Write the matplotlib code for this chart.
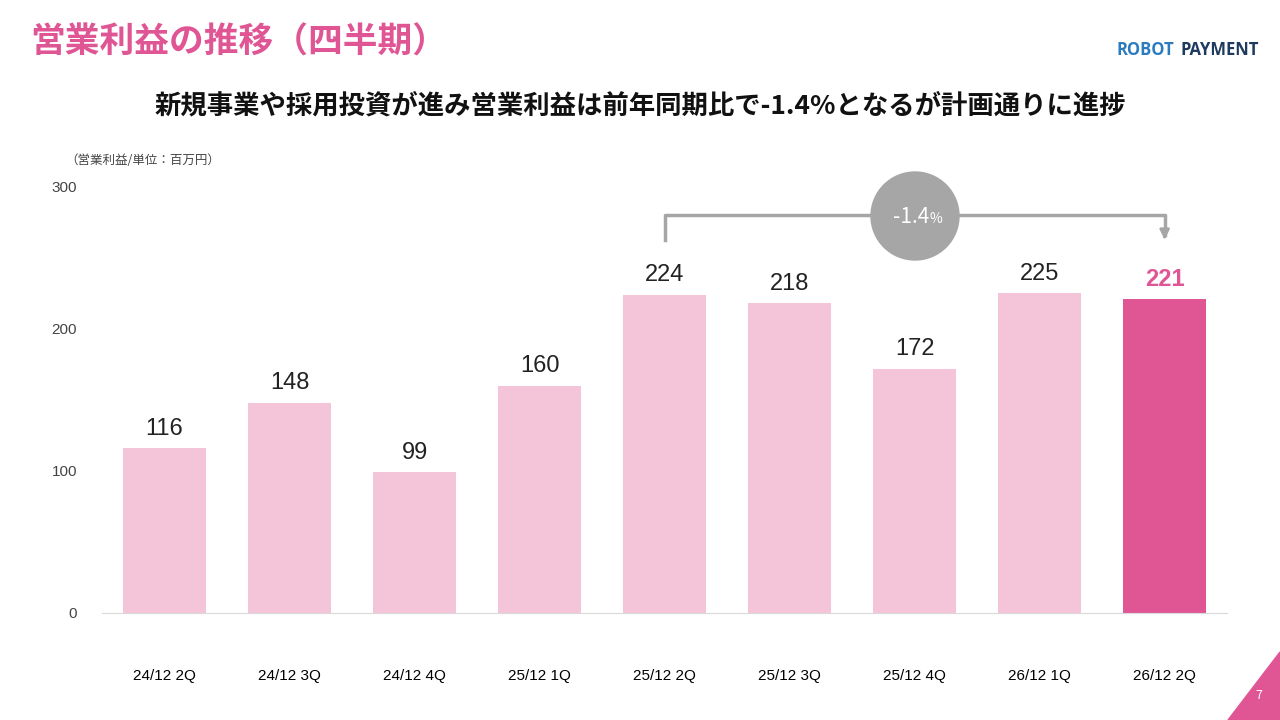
import matplotlib.pyplot as plt
from matplotlib.patches import Ellipse, Polygon

plt.rcParams['font.family'] = ['Noto Sans CJK JP', 'DejaVu Sans']

quarters = ["24/12 2Q", "24/12 3Q", "24/12 4Q", "25/12 1Q", "25/12 2Q",
            "25/12 3Q", "25/12 4Q", "26/12 1Q", "26/12 2Q"]
profit = [116, 148, 99, 160, 224, 218, 172, 225, 221]

light = "#f4c4d9"
dark = "#e05695"
gray = "#a6a6a6"

fig = plt.figure(figsize=(12.8, 7.2), dpi=100)
ax = fig.add_axes([0.0797, 1 - 613 / 720, 0.879, 426 / 720])

colors = [light] * (len(profit) - 1) + [dark]
x = range(len(profit))
ax.bar(x, profit, width=0.66, color=colors)
for i, v in enumerate(profit):
    last = i == len(profit) - 1
    ax.text(i, v + 6, str(v), ha='center', va='bottom', fontsize=17,
            family='Liberation Sans', color=dark if last else '#222222',
            fontweight='bold' if last else 'normal')

ax.set_xlim(-0.5, 8.5)
ax.set_ylim(0, 300)
ax.set_yticks([0, 100, 200, 300])
ax.set_xticks(list(x))
ax.set_xticklabels(quarters, family='Liberation Sans', fontsize=11)
ax.tick_params(axis='x', length=0, pad=58 - 18)
ax.tick_params(axis='y', length=0, pad=18, labelsize=11, labelcolor='#444444')
for t in ax.get_yticklabels():
    t.set_family('Liberation Sans')
for s in ['top', 'right', 'left']:
    ax.spines[s].set_visible(False)
ax.spines['bottom'].set_color('#d9d9d9')

# bracket comparing same quarter last year
ax.plot([4, 4, 8, 8], [263, 280.3, 280.3, 266], color=gray, lw=2.5, clip_on=False)
ax.annotate('', xy=(8, 261), xytext=(8, 268),
            arrowprops=dict(arrowstyle='-|>', color=gray, lw=2, mutation_scale=14),
            annotation_clip=False)
fig.add_artist(Ellipse((915 / 1280, 1 - 216 / 720), 88 / 1280, 88 / 720,
                       transform=fig.transFigure, color=gray, zorder=5))
fig.text(929 / 1280, 1 - 217 / 720, '-1.4', ha='right', va='center', fontsize=15,
         color='white', zorder=6)
fig.text(929 / 1280, 1 - 219 / 720, '%', ha='left', va='center', fontsize=10,
         color='white', zorder=6)

fig.text(30 / 1280, 1 - 42 / 720, '営業利益の推移（四半期）', fontsize=25, color=dark,
         fontweight='bold', va='center')
fig.text(640 / 1280, 1 - 106 / 720,
         '新規事業や採用投資が進み営業利益は前年同期比で-1.4%となるが計画通りに進捗',
         fontsize=19, fontweight='bold', ha='center', va='center', color='#111111')
fig.text(65 / 1280, 1 - 160 / 720, '（営業利益/単位：百万円）', fontsize=9,
         color='#444444', va='center')
fig.text(1117 / 1280, 1 - 50 / 720, 'ROBOT', fontsize=12, fontweight='bold',
         color='#2b7bbf', va='center', family='Open Sans')
fig.text(1180 / 1280, 1 - 50 / 720, 'PAYMENT', fontsize=12, fontweight='bold',
         color='#1f3a5f', va='center', family='Open Sans')

fig.add_artist(Polygon([(1, 0), (1, 68 / 720), (1228 / 1280, 0)], closed=True,
                       transform=fig.transFigure, color=dark, zorder=0))
fig.text(1259 / 1280, 1 - 699 / 720, '7', fontsize=9, color='white', ha='center')

fig.savefig('out.png', dpi=100)
